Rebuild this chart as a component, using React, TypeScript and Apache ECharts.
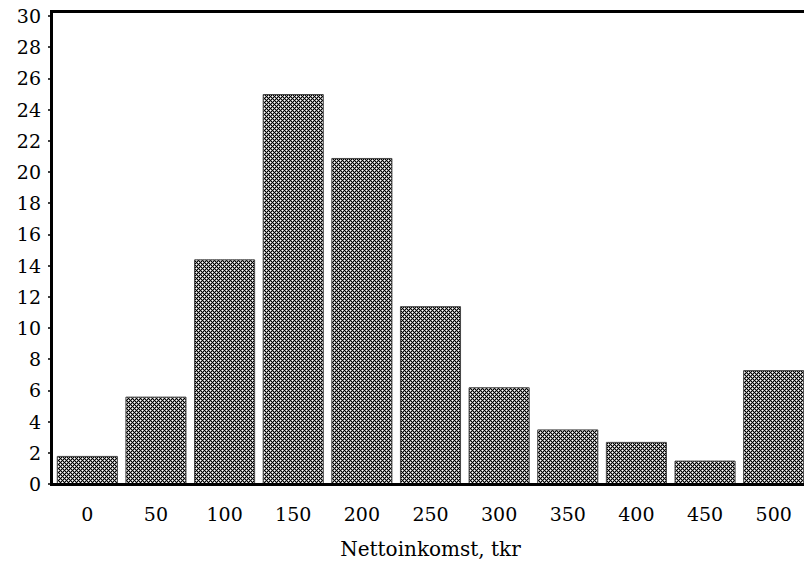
import React, { useEffect, useRef } from "react";
import * as echarts from "echarts";

// Income classes (thousand SEK) and share of households in each class
const categories = ["0", "50", "100", "150", "200", "250", "300", "350", "400", "450", "500"];
const shares = [1.8, 5.6, 14.4, 25.0, 20.9, 11.4, 6.2, 3.5, 2.7, 1.5, 7.3];
const xTitle = "Nettoinkomst, tkr";

const FONT = "'DejaVu Serif', serif";

// Small tile producing a dense cross-hatch fill
function makeHatch(): HTMLCanvasElement {
  const c = document.createElement("canvas");
  c.width = 4;
  c.height = 4;
  const ctx = c.getContext("2d")!;
  for (let y = 0; y < 4; y++) {
    for (let x = 0; x < 4; x++) {
      let col = "#000000";
      if ((x === 0 && y === 0) || (x === 2 && y === 2)) col = "#ffffff";
      else if ((x + y) % 2 === 1) col = "#999999";
      ctx.fillStyle = col;
      ctx.fillRect(x, y, 1, 1);
    }
  }
  return c;
}

export default function App() {
  const ref = useRef<HTMLDivElement>(null);

  useEffect(() => {
    if (!ref.current) return;
    const chart = echarts.init(ref.current, undefined, { renderer: "svg" });
    const hatch = makeHatch();

    chart.setOption({
      animation: false,
      backgroundColor: "#ffffff",
      grid: { left: 53, right: 4, top: 16, bottom: 84, containLabel: false },
      xAxis: {
        type: "category",
        data: categories,
        axisLine: { show: false },
        axisTick: { show: false },
        axisLabel: { color: "#000", fontFamily: FONT, fontSize: 19, margin: 20 },
        name: xTitle,
        nameLocation: "middle",
        nameGap: 55,
        nameTextStyle: { color: "#000", fontFamily: FONT, fontSize: 20 },
      },
      yAxis: {
        type: "value",
        min: 0,
        max: 30,
        interval: 2,
        axisLine: { show: false },
        axisTick: { show: true, length: 5, lineStyle: { color: "#000", width: 1.5 } },
        minorTick: { show: true, splitNumber: 4, length: 3, lineStyle: { color: "#000", width: 1 } },
        splitLine: { show: false },
        axisLabel: { color: "#000", fontFamily: FONT, fontSize: 19, margin: 12 },
      },
      graphic: [
        {
          type: "rect",
          shape: { x: 51.5, y: 11.5, width: 758, height: 473 },
          style: { fill: "none", stroke: "#000", lineWidth: 3 },
          z: 100,
        },
      ],
      series: [
        {
          type: "bar",
          data: shares,
          barCategoryGap: "11%",
          itemStyle: {
            color: { image: hatch, repeat: "repeat" },
            borderColor: "#444",
            borderWidth: 1,
          },
        },
      ],
    });

    return () => chart.dispose();
  }, []);

  return <div ref={ref} style={{ width: 812, height: 568, margin: -8 }} />;
}
